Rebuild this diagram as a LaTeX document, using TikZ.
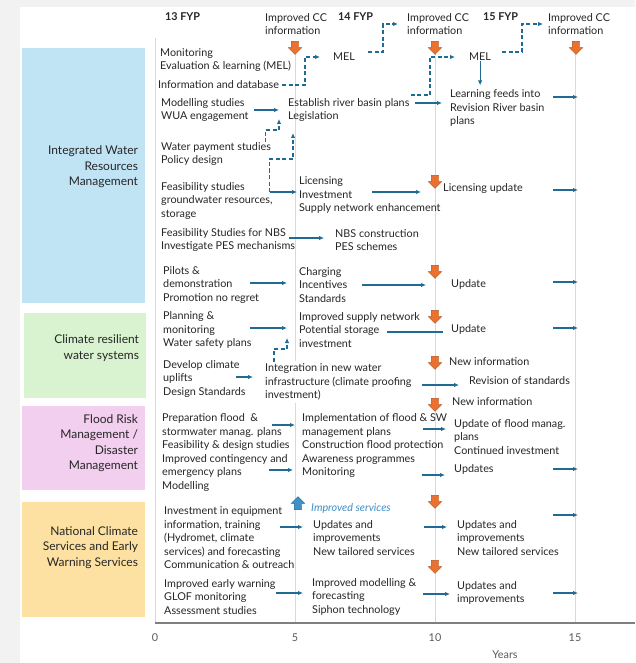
\documentclass[tikz,border=0pt]{standalone}
\usepackage{fontspec}
\setmainfont{Lato}
\usetikzlibrary{arrows.meta,positioning,calc,shapes.arrows}
\definecolor{ink}{HTML}{262626}
\definecolor{pagegray}{HTML}{F2F2F2}
\definecolor{iwrmfill}{HTML}{C1E4F5}
\definecolor{crwsfill}{HTML}{D9F2D0}
\definecolor{frmfill}{HTML}{F2CEEF}
\definecolor{ncsfill}{HTML}{FDE1A2}
\definecolor{flow}{HTML}{1F6B93}
\definecolor{ccorange}{HTML}{E97132}
\definecolor{ccedge}{HTML}{B4561C}
\definecolor{svcblue}{HTML}{3F8FC8}
\definecolor{gridgray}{HTML}{D9D9D9}
\definecolor{axisgray}{HTML}{7F7F7F}
\definecolor{ticktext}{HTML}{595959}
\tikzset{
  txt/.style={
    anchor=west,inner sep=0pt,align=left,text=ink,
    font=\fontsize{10.8}{13.5}\selectfont
  },
  head/.style={
    anchor=west,inner sep=0pt,text=ink,
    font=\fontsize{10.8}{13.5}\selectfont\bfseries
  },
  catbox/.style={inner sep=0pt,minimum width=123pt},
  catlbl/.style={
    anchor=east,inner sep=0pt,align=right,text=ink,
    font=\fontsize{12}{15.5}\selectfont
  },
  tick/.style={inner sep=0pt,text=ticktext,font=\fontsize{10.8}{13.5}\selectfont},
  arr/.style={-{Latex[length=5pt,width=4.5pt]},draw=flow,line width=1.1pt},
  dasharr/.style={arr,line width=1.2pt,dash pattern=on 4pt off 2.5pt},
  link/.style={draw=flow,line width=1.1pt},
  ccarrow/.style={
    single arrow,shape border rotate=270,fill=ccorange,draw=ccedge,
    line width=.4pt,inner sep=3.5pt,single arrow head extend=3pt,
    minimum height=13pt
  },
  svcarrow/.style={ccarrow,shape border rotate=90,fill=svcblue,draw=flow},
  grid/.style={draw=gridgray,line width=.8pt},
  axisline/.style={draw=axisgray,line width=1.4pt}
}

\begin{document}
\begin{tikzpicture}[x=1pt,y=-1pt]
\fill[pagegray] (0,0) rectangle (635,663);
\fill[white] (20,7) rectangle (635,663);
\useasboundingbox (0,0) rectangle (635,663);

% time axis and grid
\coordinate (ytop) at (155,38);
\coordinate (o) at (155,623);
\coordinate (xend) at (635,623);
\coordinate (g5) at (295,52);
\coordinate (g10) at (435,52);
\coordinate (g15) at (575,52);
\draw[grid] (ytop) -- (o);
\draw[grid] (g5) -- (g5 |- o);
\draw[grid] (g10) -- (g10 |- o);
\draw[grid] (g15) -- (g15 |- o);
\draw[axisline] (o) -- (xend);
\node[tick] (t0) at (155,638) {0};
\node[tick] (t5) at (295,638) {5};
\node[tick] (t10) at (435,638) {10};
\node[tick] (t15) at (575,638) {15};
\node[tick] (years) at (505,655) {Years};

% themes
\node[catbox,fill=iwrmfill,minimum height=255pt] (iwrm) at (83.5,175.5) {};
\node[catlbl] (iwrmlbl) at ([xshift=-7pt,yshift=8.5pt]iwrm.east)
{Integrated Water\\Resources\\Management};
\node[catbox,fill=crwsfill,minimum width=122pt,minimum height=85pt] (crws) at (85,355.5) {};
\node[catlbl] (crwslbl) at ([xshift=-7pt,yshift=7.5pt]crws.east)
{Climate resilient\\water systems};
\node[catbox,fill=frmfill,minimum height=84pt] (frm) at (83.5,448) {};
\node[catlbl] (frmlbl) at ([xshift=-7pt,yshift=5pt]frm.east)
{Flood Risk\\Management /\\Disaster\\Management};
\node[catbox,fill=ncsfill,minimum height=115pt] (ncs) at (83.5,559.5) {};
\node[catlbl] (ncslbl) at ([xshift=-7pt,yshift=12pt]ncs.east)
{National Climate\\Services and Early\\Warning Services};

% plan periods
\node[head] (fyp13) at (165,17) {13 FYP};
\node[head] (fyp14) at (338,17) {14 FYP};
\node[head] (fyp15) at (483,17) {15 FYP};
\node[txt] (cci5) at (265,24) {Improved CC\\information};
\node[txt] (cci10) at (407,24) {Improved CC\\information};
\node[txt] (cci15) at (548,24) {Improved CC\\information};
\node[ccarrow] (cc5) at (295,46) {};
\node[ccarrow] (cc10) at (435,46) {};
\node[ccarrow] (cc15) at (576,46) {};

% integrated water resources management
\node[txt] (mel1) at (160,60) {Monitoring\\Evaluation \& learning (MEL)};
\node[txt] (infodb) at (158,85) {Information and database};
\node[txt] (modst) at (161,110) {Modelling studies\\WUA engagement};
\node[txt] (wpay) at (161,154) {Water payment studies\\Policy design};
\node[txt] (feas) at (161,201) {Feasibility studies\\groundwater resources,\\storage};
\node[txt,fill=white,inner ysep=2pt] (nbsfeas) at (161,240)
{Feasibility Studies for NBS\\Investigate PES mechanisms};
\node[txt] (mel2) at (333,57) {MEL};
\node[txt] (rbp) at (288,110) {Establish river basin plans\\Legislation};
\node[txt] (lic) at (299,195) {Licensing\\Investment\\Supply network enhancement};
\node[txt] (nbs) at (335,240) {NBS construction\\PES schemes};
\node[txt] (mel3) at (469,57) {MEL};
\node[txt] (learn) at (450,108) {Learning feeds into\\Revision River basin\\plans};
\node[ccarrow] (cclic) at (435,180) {};
\node[txt] (licupd) at (443,189) {Licensing update};

\draw[dasharr] ([xshift=3pt]infodb.east) -| ([xshift=-28pt]mel2.west) -- ([xshift=-13pt]mel2.west);
\draw[dasharr] ([xshift=13pt,yshift=5pt]mel2.east) -| ([xshift=-24pt]cci10.west) -- ([xshift=-9pt]cci10.west);
\draw[dasharr] ([xshift=1pt,yshift=15pt]rbp.east) -| ([xshift=-39pt]mel3.west) -- ([xshift=-14pt]mel3.west);
\draw[dasharr] ([xshift=11pt,yshift=5pt]mel3.east) -| ([xshift=-26pt]cci15.west) -- ([xshift=-5pt]cci15.west);
\draw[arr,shorten >=4pt] (mel3.south) -- (mel3.south |- learn.north);
\draw[arr] ([xshift=5pt]modst.east) -- ([xshift=-9pt]modst.east -| rbp.west);
\draw[arr] ([xshift=5pt,yshift=7pt]rbp.east) -- ([xshift=-8pt,yshift=7pt]rbp.east -| learn.west);
\draw[arr] ([xshift=-22pt,yshift=11pt]learn.east -| g15) -- ([xshift=3pt,yshift=11pt]learn.east -| g15);
\draw[dasharr] ([xshift=-6pt]wpay.north east) |- ([xshift=-9pt,yshift=-20pt]rbp.west) -- ([xshift=-9pt,yshift=-9pt]rbp.west);
\draw[dasharr] ([xshift=-3pt,yshift=9pt]feas.east) |- ([xshift=-6pt,yshift=36pt]lic.west) -- ([xshift=-6pt,yshift=62pt]lic.west);
\draw[arr] ([xshift=-3pt,yshift=9pt]feas.east) -- ([xshift=-2pt,yshift=3pt]lic.west);
\draw[arr] ([xshift=73pt,yshift=3pt]lic.west) -- ([xshift=-22pt,yshift=-3pt]licupd.west);
\draw[arr] ([xshift=-22pt,yshift=-1pt]licupd.east -| g15) -- ([xshift=3pt,yshift=-1pt]licupd.east -| g15);
\draw[arr] ([xshift=-6pt,yshift=2pt]nbsfeas.east) -- ([xshift=-11pt,yshift=2pt]nbs.west);

% climate resilient water systems
\node[txt] (pilots) at (163,285) {Pilots \&\\demonstration\\Promotion no regret};
\node[txt] (charge) at (299,285) {Charging\\Incentives\\Standards};
\node[ccarrow] (ccchg) at (435,270) {};
\node[txt] (upd1) at (451,284) {Update};
\node[txt] (plan) at (163,330) {Planning \&\\monitoring\\Water safety plans};
\node[txt] (supply) at (299,330) {Improved supply network\\Potential storage\\investment};
\node[ccarrow] (ccsup) at (435,315) {};
\node[txt] (upd2) at (451,329) {Update};
\node[txt] (uplift) at (163,379) {Develop climate\\uplifts\\Design Standards};
\node[txt,fill=white,inner ysep=3pt] (integ) at (265,382)
{Integration in new water\\infrastructure (climate proofing\\investment)};
\node[ccarrow] (ccnew1) at (435,361) {};
\node[txt] (newinfo1) at (449,362) {New information};
\node[txt,fill=white,inner ysep=3pt] (revstd) at (469,381) {Revision of standards};
\node[ccarrow] (ccnew2) at (435,403) {};
\node[txt] (newinfo2) at (452,402) {New information};

\draw[arr] ([xshift=-9pt,yshift=2pt]pilots.east) -- ([xshift=-12pt,yshift=2pt]charge.west);
\draw[arr] ([xshift=63pt]charge.west) -- ([xshift=-25pt,yshift=-1pt]upd1.west);
\draw[arr] ([xshift=-22pt,yshift=2pt]upd1.east -| g15) -- ([xshift=3pt,yshift=2pt]upd1.east -| g15);
\draw[arr] ([xshift=-2pt,yshift=2pt]plan.east) -- ([xshift=-12pt,yshift=2pt]supply.west);
\draw[link] ([xshift=88pt,yshift=-2pt]supply.west) -- ([xshift=-8pt,yshift=-3pt]upd2.west);
\draw[arr] ([xshift=-22pt,yshift=1pt]upd2.east -| g15) -- ([xshift=3pt,yshift=1pt]upd2.east -| g15);
\draw[arr] ([xshift=-10pt,yshift=2pt]uplift.east) -- ([xshift=-12pt,yshift=5pt]integ.west);
\draw[dasharr] ([xshift=9pt,yshift=-1pt]integ.north west) |- ([xshift=-12pt,yshift=-19pt]supply.west) -- ([xshift=-12pt,yshift=-8pt]supply.west);
\draw[arr] ([xshift=10pt,yshift=-3pt]integ.east) -- ([xshift=-10pt,yshift=-4pt]revstd.west);

% flood risk management
\node[txt] (fprep) at (162,452.5)
{Preparation flood \ \&\\stormwater manag. plans\\Feasibility \& design studies\\Improved contingency and\\emergency plans\\Modelling};
\node[txt] (fimpl) at (302,446)
{Implementation of flood \& SW\\management plans\\Construction flood protection\\Awareness programmes\\Monitoring};
\node[txt] (fupdp) at (454,437) {Update of flood manag.\\plans\\Continued investment};
\node[txt] (fupd) at (454,469) {Updates};

\draw[arr] ([xshift=-30pt,yshift=21pt]fimpl.west) -- ([xshift=-7pt,yshift=21pt]fimpl.west);
\draw[arr] ([xshift=-33pt,yshift=-24pt]fimpl.west) -- ([xshift=-9pt,yshift=-24pt]fimpl.west);
\draw[arr] ([xshift=-31pt,yshift=8pt]fupdp.west) -- ([xshift=-8pt,yshift=8pt]fupdp.west);
\draw[arr] ([xshift=-32pt,yshift=-6pt]fupd.west) -- ([xshift=-9pt,yshift=-6pt]fupd.west);
\draw[arr] ([xshift=-22pt]fupd.east -| g15) -- ([xshift=3pt]fupd.east -| g15);

% national climate services
\node[svcarrow] (svcup) at (298,505) {};
\node[txt,text=svcblue,font=\fontsize{10.8}{13.5}\selectfont\itshape] (svc) at (311,508) {Improved services};
\node[ccarrow] (ccsvc) at (435,500) {};
\node[txt,fill=white,inner ysep=2pt] (invest) at (164,538)
{Investment in equipment\\information, training\\(Hydromet, climate\\services) and forecasting\\Communication \& outreach};
\node[txt] (upd5) at (313,538) {Updates and\\improvements\\New tailored services};
\node[txt] (upd10) at (457,538) {Updates and\\improvements\\New tailored services};
\node[ccarrow] (ccew) at (435,565) {};
\node[txt] (ew) at (164,597) {Improved early warning\\GLOF monitoring\\Assessment studies};
\node[txt] (model) at (312,597) {Improved modelling \&\\forecasting\\Siphon technology};
\node[txt] (ewupd) at (457,593) {Updates and\\improvements};

\draw[arr] ([xshift=-33pt,yshift=11pt]upd5.west) -- ([xshift=-10pt,yshift=11pt]upd5.west);
\draw[arr] ([xshift=-33pt,yshift=11pt]upd10.west) -- ([xshift=-10pt,yshift=11pt]upd10.west);
\draw[arr] ([xshift=-22pt,yshift=23pt]upd10.east -| g15) -- ([xshift=3pt,yshift=23pt]upd10.east -| g15);
\draw[arr] ([xshift=-36pt,yshift=4pt]model.west) -- ([xshift=-9pt,yshift=4pt]model.west);
\draw[arr] ([xshift=-34pt,yshift=-1pt]ewupd.west) -- ([xshift=-7pt,yshift=-1pt]ewupd.west);
\draw[arr] ([xshift=-22pt]ewupd.east -| g15) -- ([xshift=3pt]ewupd.east -| g15);
\end{tikzpicture}
\end{document}
